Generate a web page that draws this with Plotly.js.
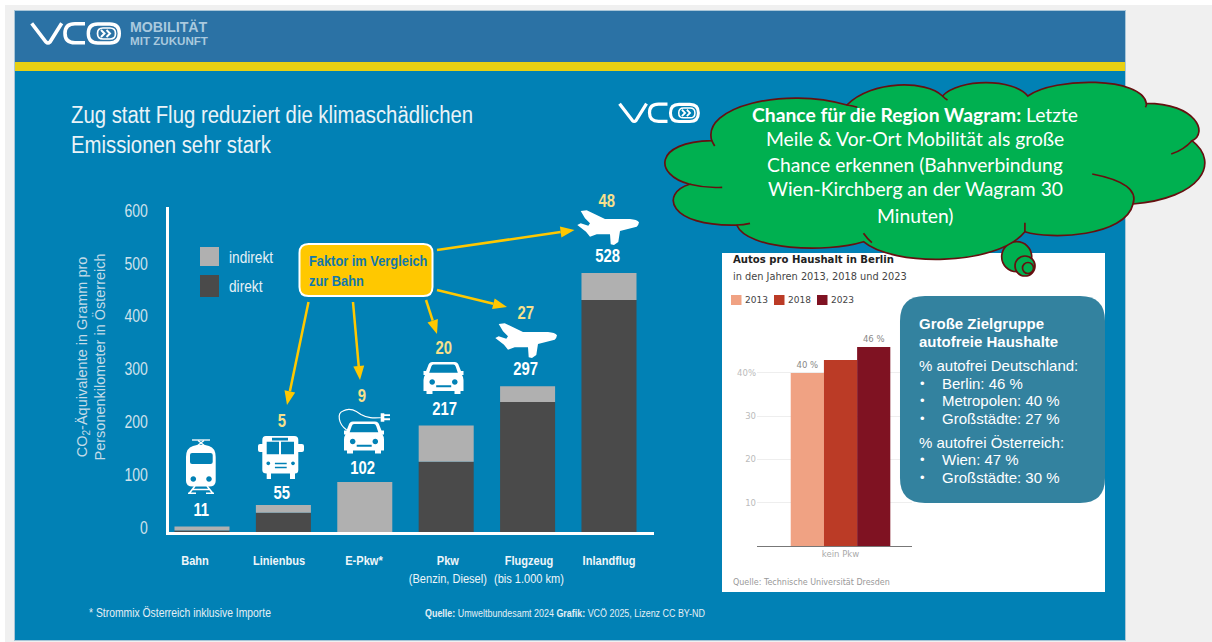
<!DOCTYPE html>
<html><head><meta charset="utf-8">
<script src="https://cdn.plot.ly/plotly-3.0.1.min.js"></script>
<style>html,body{margin:0;padding:0;background:#fff}#c{width:1212px;height:642px}</style>
</head><body><div id="c"></div>
<script>
// ---- data ----
const modes = ['Bahn','Linienbus','E-Pkw*','Pkw','Flugzeug','Inlandflug'];
const modeLabels = ['<b>Bahn</b>','<b>Linienbus</b>','<b>E-Pkw*</b>','<b>Pkw</b><br>(Benzin, Diesel)','<b>Flugzeug</b><br>(bis 1.000 km)','<b>Inlandflug</b>'];
const totals = [11,55,102,217,297,528];
const direct = [3,39,0,143,265,473];
const indirect = [8,16,102,74,32,55];
const factors = [null,5,9,20,27,48];
const yTickLabels = ['0','100','200','300','400','500','600'];
const insetYears = ['2013','2018','2023'];
const insetCategory = ['kein Pkw'];
const insetValues = [40,43,46];
const insetTexts = ['40 %',null,'46 %'];
const insetColors = ['#f0a283','#bb3b26','#7f1222'];
const insetTicks = [10,20,30,40];

// ---- px helpers ----
const W=1212,H=642;
const px=x=>x/W, py=y=>1-y/H;
const SANS='"Liberation Sans",sans-serif';
const DJ='"DejaVu Sans",sans-serif';
function mapPath(s){
  return s.replace(/(-?\d+\.?\d*)[ ,]+(-?\d+\.?\d*)/g,(m,a,b)=>px(+a).toFixed(5)+','+py(+b).toFixed(5));
}
function shift(s,ox,oy,k=1,ky=k){
  return s.replace(/(-?\d+\.?\d*)[ ,]+(-?\d+\.?\d*)/g,(m,a,b)=>(ox+a*k).toFixed(2)+','+(oy+b*ky).toFixed(2));
}
const shapes=[];
function pathShape(p,fill,line,lw,layer='above'){
  shapes.push({type:'path',xref:'paper',yref:'paper',path:mapPath(p),fillcolor:fill||'rgba(0,0,0,0)',
    line:{color:line||'rgba(0,0,0,0)',width:lw||0},layer});
}
function rect(x0,y0,x1,y1,fill,layer='below'){
  shapes.push({type:'rect',xref:'paper',yref:'paper',x0:px(x0),x1:px(x1),y0:py(y1),y1:py(y0),fillcolor:fill,line:{width:0},layer});
}
function circ(cx,cy,r){const k=.5523*r;
  return `M${cx-r},${cy} C${cx-r},${cy-k} ${cx-k},${cy-r} ${cx},${cy-r} C${cx+k},${cy-r} ${cx+r},${cy-k} ${cx+r},${cy} C${cx+r},${cy+k} ${cx+k},${cy+r} ${cx},${cy+r} C${cx-k},${cy+r} ${cx-r},${cy+k} ${cx-r},${cy} Z`;}
function rr(x0,y0,x1,y1,r){
  return `M${x0+r},${y0} L${x1-r},${y0} Q${x1},${y0} ${x1},${y0+r} L${x1},${y1-r} Q${x1},${y1} ${x1-r},${y1} L${x0+r},${y1} Q${x0},${y1} ${x0},${y1-r} L${x0},${y0+r} Q${x0},${y0} ${x0+r},${y0} Z`;}
const anns=[], squeeze=[];
function T(x,y,text,o={}){
  const a=o.a||'left';
  anns.push({xref:'paper',yref:'paper',x:px(x),y:py(y),text,showarrow:false,xanchor:a,yanchor:'middle',
    textangle:o.angle||0,font:{family:o.f||SANS,size:o.s||14,color:o.c||'#fff'},borderpad:0,align:a});
  squeeze.push(o.k||1);
}

// ---- page background ----
rect(0,0,W,H,'#f0f0f0');
rect(0,0,W,5,'#ffffff'); rect(0,0,5,H,'#ffffff');
rect(14,10,1126,641,'#a9c6d8');
rect(15,11,1125,640,'#0181b5');
rect(15,11,1125,62,'#2b72a5');
rect(15,62,1125,71,'#e8d013');

// ---- logo ----
function logo(ox,oy,k){
  const S=p=>shift(p,ox,oy,k);
  pathShape(S('M1.7,0.8 L16,19.5 Q18,21.5 20,19.5 L31.7,0.8'),null,'#fff',3.6*k,'below');
  pathShape(S('M55,1.2 L45,1.2 Q35,1.2 35,10.8 Q35,20.3 45,20.3 L55,20.3'),null,'#fff',3.6*k,'below');
  pathShape(S(rr(58.3,1.5,89.3,20.5,9.5)),null,'#fff',3.4*k,'below');
  pathShape(S(rr(67.5,5.5,85.5,16.5,5.5)),null,'#fff',1.7*k,'below');
  pathShape(S('M71,7.5 L74.5,11 L71,14.5'),null,'#fff',2*k,'below');
  pathShape(S('M76.5,7.5 L80,11 L76.5,14.5'),null,'#fff',2*k,'below');
}
logo(30,22.5,1);
logo(618,103,.9);
T(128.5,27,'<b>MOBILITÄT</b>',{s:14.2,c:'#a9c9de'});
T(128.5,40.5,'<b>MIT ZUKUNFT</b>',{s:11.6,c:'#a9c9de'});

// ---- title / notes ----
T(70,114,'Zug statt Flug reduziert die klimaschädlichen',{s:24.5,c:'#eaf3f8',k:.83});
T(70,144,'Emissionen sehr stark',{s:24.5,c:'#eaf3f8',k:.83});
T(88,613,'* Strommix Österreich inklusive Importe',{s:12.5,c:'#e4eff5',k:.83});
T(424,613,'<b>Quelle:</b> Umweltbundesamt 2024 <b>Grafik:</b> VCÖ 2025, Lizenz CC BY-ND',{s:11.5,c:'#e4eff5',k:.777});
T(90.5,357,'CO<sub>2</sub>-Äquivalente in Gramm pro<br>Personenkilometer in Österreich',{s:14.5,c:'#c4dbe8',a:'center',angle:-90});

// ---- chart legend ----
rect(200,247,219,266,'#b0b0b0'); rect(200,275,219,297,'#4a4a4a');
T(228,257,'indirekt',{s:16.5,c:'#e6f0f5',k:.83}); T(228,286,'direkt',{s:16.5,c:'#e6f0f5',k:.83});

// ---- value and factor labels ----
const valueX=[201,282,362,444,525,607], valueY=[510,493,468,409,369,256];
const factorY=[0,421,396,348,313,201];
totals.forEach((v,i)=>T(valueX[i],valueY[i],'<b>'+v+'</b>',{s:17.5,a:'center',k:.85}));
factors.forEach((v,i)=>{if(v!==null)T(valueX[i],factorY[i],'<b>'+v+'</b>',{s:17.5,a:'center',c:'#f6e08c',k:.85});});

// ---- factor box and arrows ----
const YEL='#ffc800';
function arrow(x1,y1,x2,y2){
  const d=Math.hypot(x2-x1,y2-y1),ux=(x2-x1)/d,uy=(y2-y1)/d,L=14,Wd=5.5;
  const bx=x2-ux*L,by=y2-uy*L;
  pathShape(`M${x1},${y1} L${bx.toFixed(1)},${by.toFixed(1)}`,null,YEL,2.5);
  pathShape(`M${x2},${y2} L${(bx-uy*Wd).toFixed(1)},${(by+ux*Wd).toFixed(1)} L${(bx+uy*Wd).toFixed(1)},${(by-ux*Wd).toFixed(1)} Z`,YEL);
}
arrow(437,250,574.5,230); arrow(437,290,507,307);
arrow(353,302,360,380); arrow(308.5,302,287,405); arrow(426,300,437,334);
pathShape(rr(299.5,244,432.5,296,9),YEL,'#fff',2);
T(308,260,'<b>Faktor im Vergleich</b>',{s:15,c:'#1278ab',k:.857});
T(308,280,'<b>zur Bahn</b>',{s:15,c:'#1278ab',k:.857});

// ---- icons ----
const plane='M3.7,1 L9.7,0.3 L28,9 L53,9 Q60,9.5 62,12.3 Q61.5,15.5 59.7,16.7 L43,21 L41.3,32 L37,35 L33.7,34.3 L33,24.3 L19.7,24.3 L13,26.7 L9,21.7 L0.3,15 L3.7,13.3 L11.3,15.7 L13,13.3 L8,8.3 Z';
pathShape(shift(plane,577,210),'#fff');
pathShape(shift(plane,495,323),'#fff');
const car='M9,0 L31,0 Q34.5,0 35.5,4 L37.5,9 L40,9 L40,13 L38.5,13 Q40,15 40,18 L40,29 L37,29 L37,32 L31,32 L31,29 L9,29 L9,32 L3,32 L3,29 L0,29 L0,18 Q0,15 1.5,13 L0,13 L0,9 L2.5,9 L4.5,4 Q5.5,0 9,0 Z '
  +'M10,2.5 L30,2.5 Q31.5,2.5 32.2,4.5 L34.3,10.7 L5.7,10.7 L7.8,4.5 Q8.5,2.5 10,2.5 Z '+circ(8.7,20,2.8)+' '+circ(31.3,20,2.8)+' M12.7,23.3 L27.7,23.3 L27.7,25.3 L12.7,25.3 Z';
pathShape(shift(car,423.5,362),'#fff');
pathShape(shift(car,344,421.5),'#fff');
pathShape('M346.7,430 C338,424 337,413 343,411 C350,407 356,411 361,414.5 C368,418.5 374,418 380.7,417.7',null,'#fff',1.2);
pathShape('M380.7,413.3 L384.3,413.3 L384.3,414.3 L390,414.3 L390,416 L384.3,416 L384.3,418.3 L390,418.3 L390,420.3 L384.3,420.3 L384.3,421.7 L380.7,421.7 Z','#fff');
const bus='M8,0 L36.3,0 Q40.3,0 40.3,4 L40.3,8 L44,8 Q46,8 46,10 L46,14 Q46,16 44,16 L40.3,16 L40.3,34 Q40.3,37.5 37,37.5 L37,43 L32,43 L32,37.5 L13,37.5 L13,43 L8.7,43 L8.7,37.5 Q4.3,37.5 4.3,34 L4.3,16 L2,16 Q0,16 0,14 L0,10 Q0,8 2,8 L4.3,8 L4.3,4 Q4.3,0 8,0 Z '
  +'M14,1.7 L30,1.7 L30,4.5 L14,4.5 Z M8.7,5.7 L21,5.7 L21,18.3 L8.7,18.3 Z M23,5.7 L36,5.7 L36,18.3 L23,18.3 Z '+circ(10.3,27.3,1.9)+' '+circ(35,27.3,1.9)+' M16.9,26.7 L28.7,26.7 L28.7,28.2 L16.9,28.2 Z M16.9,30.7 L28.7,30.7 L28.7,32.2 L16.9,32.2 Z';
pathShape(shift(bus,258,436),'#fff');
const train='M7,7 Q15,4.5 23,7 Q29.7,9 29.7,18 L29.7,42 Q29.7,47.5 23,47.5 L7,47.5 Q0,47.5 0,42 L0,18 Q0,9 7,7 Z M6,14 L24.5,14 Q26.7,14 26.7,16 L26.7,23 Q26.7,25 24.5,25 L6,25 Q4,25 4,23 L4,16 Q4,14 6,14 Z '+circ(7.3,40,2.8)+' '+circ(23,40,2.8);
pathShape(shift(train,186,439),'#fff');
pathShape(shift('M6,1 L24,1',186,439),null,'#fff',1.3);
pathShape(shift('M11,7 L18,1.5 M19,7 L12,1.5',186,439),null,'#fff',1.3);
pathShape(shift('M9,47 L3.5,54 M21,47 L26.5,54 M6,50.5 L24,50.5 M2,54.3 L10,54.3 M20,54.3 L28,54.3',186,439),null,'#fff',1.6);

// ---- inset panel ----
rect(722,253,1105,592,'#ffffff');
T(732,259,'<b>Autos pro Haushalt in Berlin</b>',{s:10.1,c:'#222',f:DJ});
T(732,276,'in den Jahren 2013, 2018 und 2023',{s:9.8,c:'#444',f:DJ});
T(732,582,'Quelle: Technische Universität Dresden',{s:8,c:'#999',f:DJ});
const lgX=[731,774,817];
insetYears.forEach((y,i)=>{rect(lgX[i],295,lgX[i]+10.5,305,insetColors[i]);T(lgX[i]+13,300,y,{s:9,c:'#444',f:DJ});});

// ---- callout ----
pathShape(rr(900,296,1105,503,25),'#33829f');
const calloutLines=[[323,'<b>Große Zielgruppe</b>',918],[341,'<b>autofreie Haushalte</b>',918],[365,'% autofrei Deutschland:',918],
 [383,'Berlin: 46 %',941],[400,'Metropolen: 40 %',941],[418,'Großstädte: 27 %',941],[442,'% autofrei Österreich:',918],[459,'Wien: 47 %',941],[477,'Großstädte: 30 %',941]];
calloutLines.forEach(l=>{T(l[2],l[0],l[1],{s:15}); if(l[2]===941)T(919,l[0],'•',{s:13});});

// ---- thought cloud ----
const zx=X=>+(560+X/2.405).toFixed(1), zy=Y=>+(70+Y/3).toFixed(1);
const Z=(X,Y)=>zx(X)+','+zy(Y);
const CLOUD='#00b050', EDGE='#661010';
pathShape(circ(1016.7,256.7,15),CLOUD,EDGE,1.7);
pathShape(circ(1025,266,10),CLOUD,EDGE,1.7);
pathShape(circ(1028,268,5.5),CLOUD,EDGE,1.7);
const lobes=[[225,315,225,215,365,212],[340,110,540,50,690,105],[750,30,880,30,920,78],[960,25,1090,25,1125,78],[1190,20,1400,20,1410,100],
 [1530,100,1560,190,1520,212],[1590,280,1540,385,1378,402],[1360,500,1180,510,1118,485],[1050,590,800,590,730,515],[640,550,450,540,425,465],[260,470,240,370,312,343]];
pathShape('M'+Z(312,343)+' '+lobes.map(l=>'C'+Z(l[0],l[1])+' '+Z(l[2],l[3])+' '+Z(l[4],l[5])).join(' ')+' Z',CLOUD,EDGE,1.7);
[[312,343,350,355,390,352],[365,212,368,220,372,228],[690,105,705,108,715,112],[920,78,925,85,932,90],[1410,100,1412,105,1408,112],
 [1520,212,1500,240,1470,252],[1378,402,1395,340,1280,312],[1118,458,1118,475,1118,485],[730,490,738,505,750,518],[425,465,440,465,457,460]]
 .forEach(a=>pathShape('M'+Z(a[0],a[1])+' Q'+Z(a[2],a[3])+' '+Z(a[4],a[5]),null,EDGE,1.7));
const cloudLines=['<b>Chance für die Region Wagram:</b> Letzte','Meile &amp; Vor-Ort Mobilität als große','Chance erkennen (Bahnverbindung','Wien-Kirchberg an der Wagram 30','Minuten)'];
const cloudY=[114,139,164,189,215];
cloudLines.forEach((t,i)=>T(915,cloudY[i],t,{s:19.3,a:'center',f:'Lato,sans-serif'}));

// ---- traces ----
const slots=modes.map((m,i)=>i);
const labelSlots=[-0.086,0.946,1.99,3.02,4.017,5];
const yTickSlots=[8,116,224,332,440,548,655];
const traces=[
 {type:'bar',name:'direkt',x:slots,y:direct,width:.676,offsetgroup:'co2',marker:{color:'#4a4a4a'},showlegend:false,hoverinfo:'skip',customdata:modes},
 {type:'bar',name:'indirekt',x:slots,y:indirect,base:direct,width:.676,offsetgroup:'co2',marker:{color:'#b0b0b0'},showlegend:false,hoverinfo:'skip',customdata:modes},
];
insetYears.forEach((y,i)=>{
  const t={type:'bar',name:y,x:insetCategory,y:[insetValues[i]],cliponaxis:false,marker:{color:insetColors[i]},xaxis:'x2',yaxis:'y2',showlegend:false,hoverinfo:'skip'};
  if(insetTexts[i]){t.text=[insetTexts[i]];t.textposition='outside';t.textfont={family:DJ,size:8.5,color:'#888'};}
  traces.push(t);
});

const layout={
 width:W,height:H,margin:{l:0,r:0,t:0,b:0},paper_bgcolor:'#fff',plot_bgcolor:'rgba(0,0,0,0)',
 barmode:'group',bargap:.355,bargroupgap:0,showlegend:false,shapes,annotations:anns,
 xaxis:{domain:[px(168.5),px(654)],range:[-.4115,5.553],tickmode:'array',tickvals:labelSlots,ticktext:modeLabels,tickangle:0,
   ticks:'outside',ticklen:14,tickcolor:'rgba(0,0,0,0)',showgrid:false,zeroline:false,showline:true,linecolor:'#fff',linewidth:3,
   tickfont:{family:SANS,size:13.5,color:'#eef5f9'},fixedrange:true,anchor:'y'},
 yaxis:{domain:[py(532),py(207)],range:[0,662.6],tickmode:'array',tickvals:yTickSlots,ticktext:yTickLabels,
   ticks:'outside',ticklen:14,tickcolor:'rgba(0,0,0,0)',showgrid:false,zeroline:false,showline:true,linecolor:'#fff',linewidth:3,
   tickfont:{family:SANS,size:18,color:'#cfe2ec'},fixedrange:true,anchor:'x'},
 xaxis2:{domain:[px(757),px(912)],type:'category',range:[-.541,.463],showgrid:false,zeroline:false,showline:true,linecolor:'#777',linewidth:1,tickangle:0,
   ticks:'',tickfont:{family:DJ,size:8.5,color:'#aaa'},anchor:'y2',fixedrange:true},
 yaxis2:{domain:[py(546),py(347)],range:[0,46],tickmode:'array',tickvals:insetTicks,ticktext:['10','20','30','40%'],showgrid:true,gridcolor:'#eeeeee',gridwidth:1,
   zeroline:false,showline:false,ticks:'',tickfont:{family:DJ,size:8.5,color:'#bbb'},anchor:'x2',fixedrange:true}
};

function condense(el,k){
  const ox=+el.getAttribute('x')||0, tr=el.getAttribute('transform')||'';
  el.setAttribute('transform',`${tr} translate(${ox},0) scale(${k},1) translate(${-ox},0)`);
}
Plotly.newPlot('c',traces,layout,{displayModeBar:false,staticPlot:true}).then(()=>{
  document.querySelectorAll('.annotation').forEach(g=>{
    const k=squeeze[+g.getAttribute('data-index')];
    if(k&&k!==1){const t=g.querySelector('text');if(t)condense(t,k);}
  });
  document.querySelectorAll('.xtick text').forEach(t=>condense(t,.82));
  document.querySelectorAll('.ytick text').forEach(t=>condense(t,.78));
});
</script></body></html>
